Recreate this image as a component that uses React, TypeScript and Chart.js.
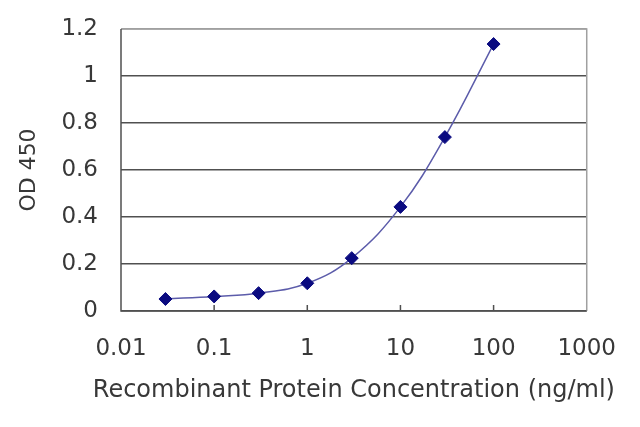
import { useEffect, useRef } from "react";
import { Chart, registerables } from "chart.js";

Chart.register(...registerables);

const concentrations = [0.03, 0.1, 0.3, 1, 3, 10, 30, 100];
const odValues = [0.051, 0.062, 0.076, 0.118, 0.225, 0.443, 0.74, 1.136];
const xTicks = [0.01, 0.1, 1, 10, 100, 1000];
const yTicks = [0, 0.2, 0.4, 0.6, 0.8, 1, 1.2];
const xTitle = "Recombinant Protein Concentration (ng/ml)";
const yTitle = "OD 450";

const FONT = "'DejaVu Sans', Verdana, sans-serif";
const TEXT = "#383838";

// frame, small inside tick marks and the x title (wider than the axis, so drawn here)
const framePlugin = {
  id: "frame",
  afterDatasetsDraw(chart: Chart) {
    const { ctx, chartArea: a, scales } = chart;
    const x = scales.x;
    ctx.save();
    ctx.lineWidth = 1.5;
    ctx.strokeStyle = "#a0a0a0";
    ctx.beginPath();
    ctx.moveTo(a.left, a.top);
    ctx.lineTo(a.right, a.top);
    ctx.lineTo(a.right, a.bottom);
    ctx.stroke();
    ctx.strokeStyle = "#505050";
    ctx.beginPath();
    ctx.moveTo(a.left, a.top);
    ctx.lineTo(a.left, a.bottom);
    ctx.lineTo(a.right, a.bottom);
    ctx.stroke();
    ctx.beginPath();
    xTicks.slice(1, -1).forEach((v) => {
      const px = x.getPixelForValue(v);
      ctx.moveTo(px, a.bottom);
      ctx.lineTo(px, a.bottom - 6);
    });
    ctx.stroke();

    ctx.fillStyle = TEXT;
    ctx.font = `24px ${FONT}`;
    ctx.textAlign = "center";
    ctx.textBaseline = "middle";
    ctx.fillText(xTitle, (a.left + a.right) / 2, a.bottom + 80);
    ctx.restore();
  },
};

export default function App() {
  const chartRef = useRef<HTMLCanvasElement>(null);
  const chartInstance = useRef<Chart | null>(null);

  useEffect(() => {
    document.body.style.margin = "0";
    if (!chartRef.current) return;
    if (chartInstance.current) chartInstance.current.destroy();
    const ctx = chartRef.current.getContext("2d");
    if (!ctx) return;

    chartInstance.current = new Chart(ctx, {
      type: "line",
      data: {
        datasets: [
          {
            data: concentrations.map((c, i) => ({ x: c, y: odValues[i] })),
            borderColor: "#5c5caa",
            borderWidth: 1.5,
            tension: 0.4,
            pointStyle: "rectRot",
            pointRadius: 6.5,
            pointBackgroundColor: "#0a0a80",
            pointBorderColor: "#0a0a80",
            pointBorderWidth: 1,
          },
        ],
      },
      options: {
        animation: false,
        responsive: false,
        events: [],
        layout: { padding: { top: 29, right: 53, left: 16, bottom: 0 } },
        plugins: { legend: { display: false }, tooltip: { enabled: false } },
        scales: {
          x: {
            type: "logarithmic",
            min: 0.01,
            max: 1000,
            afterBuildTicks: (scale: any) => {
              scale.ticks = xTicks.map((v) => ({ value: v }));
            },
            afterFit: (scale: any) => {
              scale.height = 427 - 311;
            },
            grid: { display: false, drawTicks: false },
            border: { display: false },
            ticks: {
              padding: 24,
              color: TEXT,
              font: { family: FONT, size: 23 },
              callback: (v: any) => String(v),
              maxRotation: 0,
              autoSkip: false,
            },
          },
          y: {
            min: 0,
            max: 1.2,
            afterBuildTicks: (scale: any) => {
              scale.ticks = yTicks.map((v) => ({ value: v }));
            },
            afterFit: (scale: any) => {
              scale.width = 121 - 16;
              scale.paddingTop = 0;
              scale.paddingBottom = 0;
            },
            grid: {
              drawTicks: false,
              lineWidth: 1.5,
              color: (c: any) => (c.tick && c.tick.value === 1.2 ? "#a0a0a0" : "#505050"),
            },
            border: { display: false },
            ticks: {
              padding: 23,
              color: TEXT,
              font: { family: FONT, size: 23 },
              callback: (v: any) => String(v),
            },
            title: {
              display: true,
              text: yTitle,
              color: TEXT,
              font: { family: FONT, size: 22 },
              padding: { top: 0, bottom: 4 },
            },
          },
        },
      },
      plugins: [framePlugin],
    });

    return () => {
      if (chartInstance.current) {
        chartInstance.current.destroy();
        chartInstance.current = null;
      }
    };
  }, []);

  return <canvas ref={chartRef} width={640} height={427} style={{ display: "block" }} />;
}
